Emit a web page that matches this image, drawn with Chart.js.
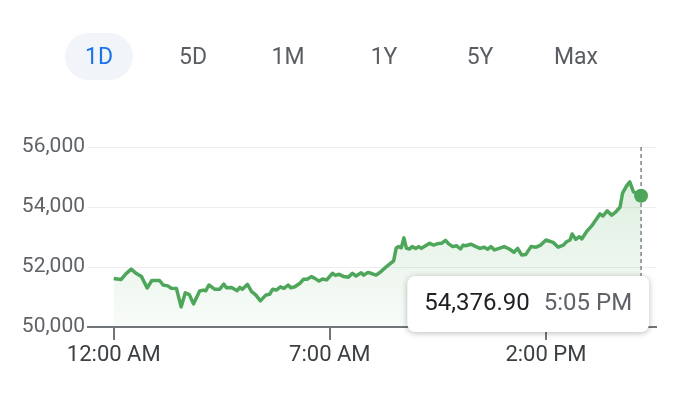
<!DOCTYPE html>
<html><head><meta charset="utf-8">
<script src="https://cdn.jsdelivr.net/npm/chart.js@4"></script>
<style>
html,body{margin:0;padding:0;background:#fff;}
#wrap{position:relative;width:688px;height:394px;overflow:hidden;font-family:Roboto,Arial,sans-serif;}
#tabs{position:absolute;left:0;top:33px;height:47px;width:688px;z-index:2;}
.tab{position:absolute;top:0;height:47px;line-height:47px;font-size:23px;color:#5a5e63;text-align:center;width:68px;margin-left:-34px;}
.tab.active{color:#1a73e8;background:#f1f4f9;border-radius:24px;}
canvas{position:absolute;left:0;top:0;}
</style></head>
<body>
<div id="wrap">
  <div id="tabs"></div>
  <canvas id="c" width="688" height="394"></canvas>
</div>
<script>
// ---- data ----
const tabLabels = ['1D','5D','1M','1Y','5Y','Max'];
const activeTab = '1D';
const tickMinutes = [0, 420, 840];
const tickLabels = ['12:00 AM', '7:00 AM', '2:00 PM'];
const yTickValues = [50000, 52000, 54000, 56000];
// minutes since midnight
const times = [0,14,24,34,44,54,65,74,89,96,105,112,122,131,139,147,155,167,174,179,
  185,196,206,214,219,229,240,245,250,260,268,276,285,296,303,309,316,324,331,339,
  344,352,362,369,376,384,391,399,406,414,425,431,438,447,456,464,471,481,486,494,
  500,510,519,528,538,544,549,554,559,564,569,575,580,587,593,598,606,614,622,630,
  637,645,651,659,666,674,679,684,694,704,712,720,727,733,740,749,759,769,778,785,
  793,801,811,821,830,840,854,864,874,880,887,891,898,905,910,919,929,939,945,951,
  959,968,976,984,989,996,1003,1010,1025];
const prices = [51620,51580,51780,51930,51780,51680,51300,51550,51550,51400,51370,51290,51280,50670,51140,51080,50770,51200,51230,51210,
  51400,51260,51260,51430,51310,51320,51210,51320,51260,51420,51180,51070,50870,51070,51090,51260,51230,51340,51290,51400,
  51310,51340,51460,51590,51590,51680,51620,51530,51600,51570,51790,51720,51760,51680,51660,51790,51700,51810,51730,51820,
  51790,51730,51840,51980,52120,52200,52630,52680,52640,52970,52620,52600,52680,52620,52680,52620,52710,52790,52730,52780,
  52790,52890,52770,52680,52710,52600,52730,52710,52760,52680,52620,52660,52590,52680,52570,52620,52680,52600,52490,52620,
  52400,52420,52680,52660,52730,52900,52820,52660,52730,52840,52900,53100,52920,53010,52940,53180,53370,53620,53770,53700,
  53870,53730,53840,53990,54460,54680,54840,54510,54376.90];

// ---- tabs ----
const tabCenters = [99,193,288,384,480,576];
const tabsEl = document.getElementById('tabs');
tabLabels.forEach((t,i)=>{
  const d = document.createElement('div');
  d.className = 'tab' + (t===activeTab?' active':'');
  d.style.left = tabCenters[i] + 'px';
  d.textContent = t;
  tabsEl.appendChild(d);
});

// ---- chart ----
const GREEN = '#4ea65a';
Chart.defaults.font.family = 'Roboto, Arial, sans-serif';
const last = times.length - 1;

function fmtTime(m){
  let h = Math.floor(m/60), mm = m % 60;
  const ap = h >= 12 ? 'PM' : 'AM';
  h = h % 12; if (h === 0) h = 12;
  return h + ':' + String(mm).padStart(2,'0') + ' ' + ap;
}

const overlay = {
  id:'overlay',
  beforeDatasetsDraw(chart){
    const ctx = chart.ctx, meta = chart.getDatasetMeta(0), p = meta.data[last];
    const {top,bottom} = chart.chartArea;
    ctx.save();
    ctx.setLineDash([4,3]);
    ctx.strokeStyle = '#80868b';
    ctx.lineWidth = 1.5;
    ctx.beginPath(); ctx.moveTo(p.x, top); ctx.lineTo(p.x, bottom); ctx.stroke();
    ctx.restore();
  },
  afterDraw(chart){
    const ctx = chart.ctx, meta = chart.getDatasetMeta(0), p = meta.data[last];
    const {bottom} = chart.chartArea;
    const valTxt = prices[last].toLocaleString('en-US',{minimumFractionDigits:2, maximumFractionDigits:2});
    const timeTxt = fmtTime(times[last]);
    ctx.save();
    ctx.font = '24px Roboto, Arial, sans-serif';
    const wv = ctx.measureText(valTxt).width, wt = ctx.measureText(timeTxt).width;
    const w = 17 + wv + 14 + wt + 17, h = 56;
    const right = p.x + 8, left = right - w, top = bottom - 51;
    ctx.shadowColor = 'rgba(0,0,0,0.28)';
    ctx.shadowBlur = 6; ctx.shadowOffsetY = 1;
    ctx.fillStyle = '#fff';
    ctx.beginPath(); ctx.roundRect(left, top, w, h, 8); ctx.fill();
    ctx.shadowColor = 'transparent';
    ctx.textBaseline = 'middle';
    ctx.fillStyle = '#202124';
    ctx.fillText(valTxt, left + 17, top + h/2);
    ctx.fillStyle = '#5f6368';
    ctx.fillText(timeTxt, left + 17 + wv + 14, top + h/2);
    ctx.restore();
  }
};

new Chart(document.getElementById('c'), {
  type:'line',
  data:{datasets:[{
    data: times.map((t,i)=>({x:t, y:prices[i]})),
    borderColor: GREEN,
    borderWidth: 3.5,
    borderJoinStyle: 'round',
    tension: 0,
    fill: 'start',
    backgroundColor: (c)=>{
      const a = c.chart.chartArea;
      if (!a) return 'rgba(78,166,90,0.1)';
      const g = c.chart.ctx.createLinearGradient(0, a.top, 0, a.bottom);
      g.addColorStop(0, 'rgba(78,166,90,0.22)');
      g.addColorStop(1, 'rgba(78,166,90,0.04)');
      return g;
    },
    pointRadius: (c)=> c.dataIndex === last ? 7 : 0,
    pointBackgroundColor: GREEN,
    pointBorderWidth: 0
  }]},
  options:{
    responsive:false, animation:false, events:[],
    layout:{padding:{left:0, right:32, top:147, bottom:0}},
    plugins:{legend:{display:false}, tooltip:{enabled:false}},
    scales:{
      x:{
        type:'linear', min:-50, max:1054,
        afterBuildTicks:(s)=>{ s.ticks = tickMinutes.map(v=>({value:v})); },
        afterFit:(s)=>{ s.height = 67; },
        ticks:{
          callback:(v)=> tickLabels[tickMinutes.indexOf(v)],
          color:'#3c4043', font:{size:22}, padding:2, maxRotation:0, autoSkip:false
        },
        grid:{drawOnChartArea:false, drawTicks:true, tickLength:13, color:'#70757a', lineWidth:2},
        border:{color:'#70757a', width:2}
      },
      y:{
        min:50000, max:56000,
        afterBuildTicks:(s)=>{ s.ticks = yTickValues.map(v=>({value:v})); },
        afterFit:(s)=>{ s.width = 88; },
        ticks:{callback:(v)=> v.toLocaleString('en-US'), color:'#5f6368', font:{size:21}, padding:3},
        grid:{color:'#eeeeee', lineWidth:1, drawTicks:false},
        border:{display:false}
      }
    }
  },
  plugins:[overlay]
});
</script>
</body></html>
